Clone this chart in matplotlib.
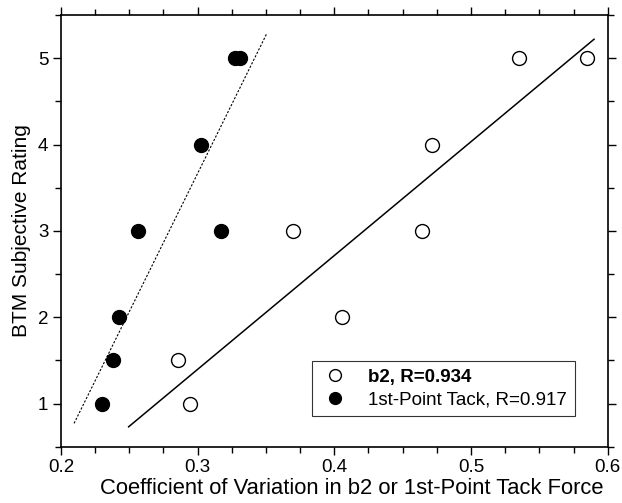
import matplotlib
matplotlib.use("Agg")
import matplotlib.pyplot as plt
from matplotlib.ticker import MultipleLocator

plt.rcParams['font.family'] = ['Liberation Sans', 'DejaVu Sans']

# b2 coefficient of variation vs rating (open circles)
b2_x = [0.2946, 0.2853, 0.4056, 0.370, 0.4645, 0.4715, 0.535, 0.585]
b2_y = [1, 1.5, 2, 3, 3, 4, 5, 5]

# 1st-point tack (filled circles)
tack_x = [0.230, 0.238, 0.2424, 0.2565, 0.3172, 0.3025, 0.327, 0.331]
tack_y = [1, 1.5, 2, 3, 3, 4, 5, 5]

# regression line end points as drawn
b2_fit_x = [0.2495, 0.590]
b2_fit_y = [0.73, 5.22]
tack_fit_x = [0.2096, 0.3507]
tack_fit_y = [0.77, 5.29]

fig = plt.figure(figsize=(6.22, 5.03), dpi=100)
ax = fig.add_axes([0.098, 0.112, 0.879, 0.858])

ax.plot(b2_fit_x, b2_fit_y, color='black', linewidth=1.1, linestyle='-')
ax.plot(tack_fit_x, tack_fit_y, color='black', linewidth=0.8, linestyle=(0, (2, 1.5)))

ax.plot(b2_x, b2_y, linestyle='', marker='o', markersize=10, markerfacecolor='white',
        markeredgecolor='black', markeredgewidth=1.0, label='b2, R=0.934')
ax.plot(tack_x, tack_y, linestyle='', marker='o', markersize=10, markerfacecolor='black',
        markeredgecolor='black', label='1st-Point Tack, R=0.917')

ax.set_xlim(0.2, 0.6)
ax.set_ylim(0.5, 5.5)
ax.xaxis.set_major_locator(MultipleLocator(0.1))
ax.xaxis.set_minor_locator(MultipleLocator(0.025))
ax.yaxis.set_major_locator(MultipleLocator(1))
ax.yaxis.set_minor_locator(MultipleLocator(0.5))
ax.xaxis.set_major_formatter(plt.FuncFormatter(lambda v, p: ('%.1f' % v)))

ax.tick_params(which='both', direction='out', top=True, right=True, labelsize=13.5, width=1.0)
ax.tick_params(which='major', length=6, pad=3)
ax.tick_params(which='minor', length=4)
for s in ax.spines.values():
    s.set_linewidth(1.2)

ax.set_xlabel('Coefficient of Variation in b2 or 1st-Point Tack Force', fontsize=15.8)
ax.xaxis.set_label_coords(0.532, -0.073)
ax.set_ylabel('BTM Subjective Rating', fontsize=15, labelpad=5)

leg = ax.legend(loc='lower right', bbox_to_anchor=(0.957, 0.049), fontsize=13.5, frameon=True,
                fancybox=False, edgecolor='black', handletextpad=1.0, borderpad=0.4,
                labelspacing=0.3, markerscale=0.85, handlelength=1.6)
leg.get_frame().set_linewidth(0.8)
leg.get_texts()[0].set_fontweight('bold')

fig.savefig('out.png', dpi=100)
